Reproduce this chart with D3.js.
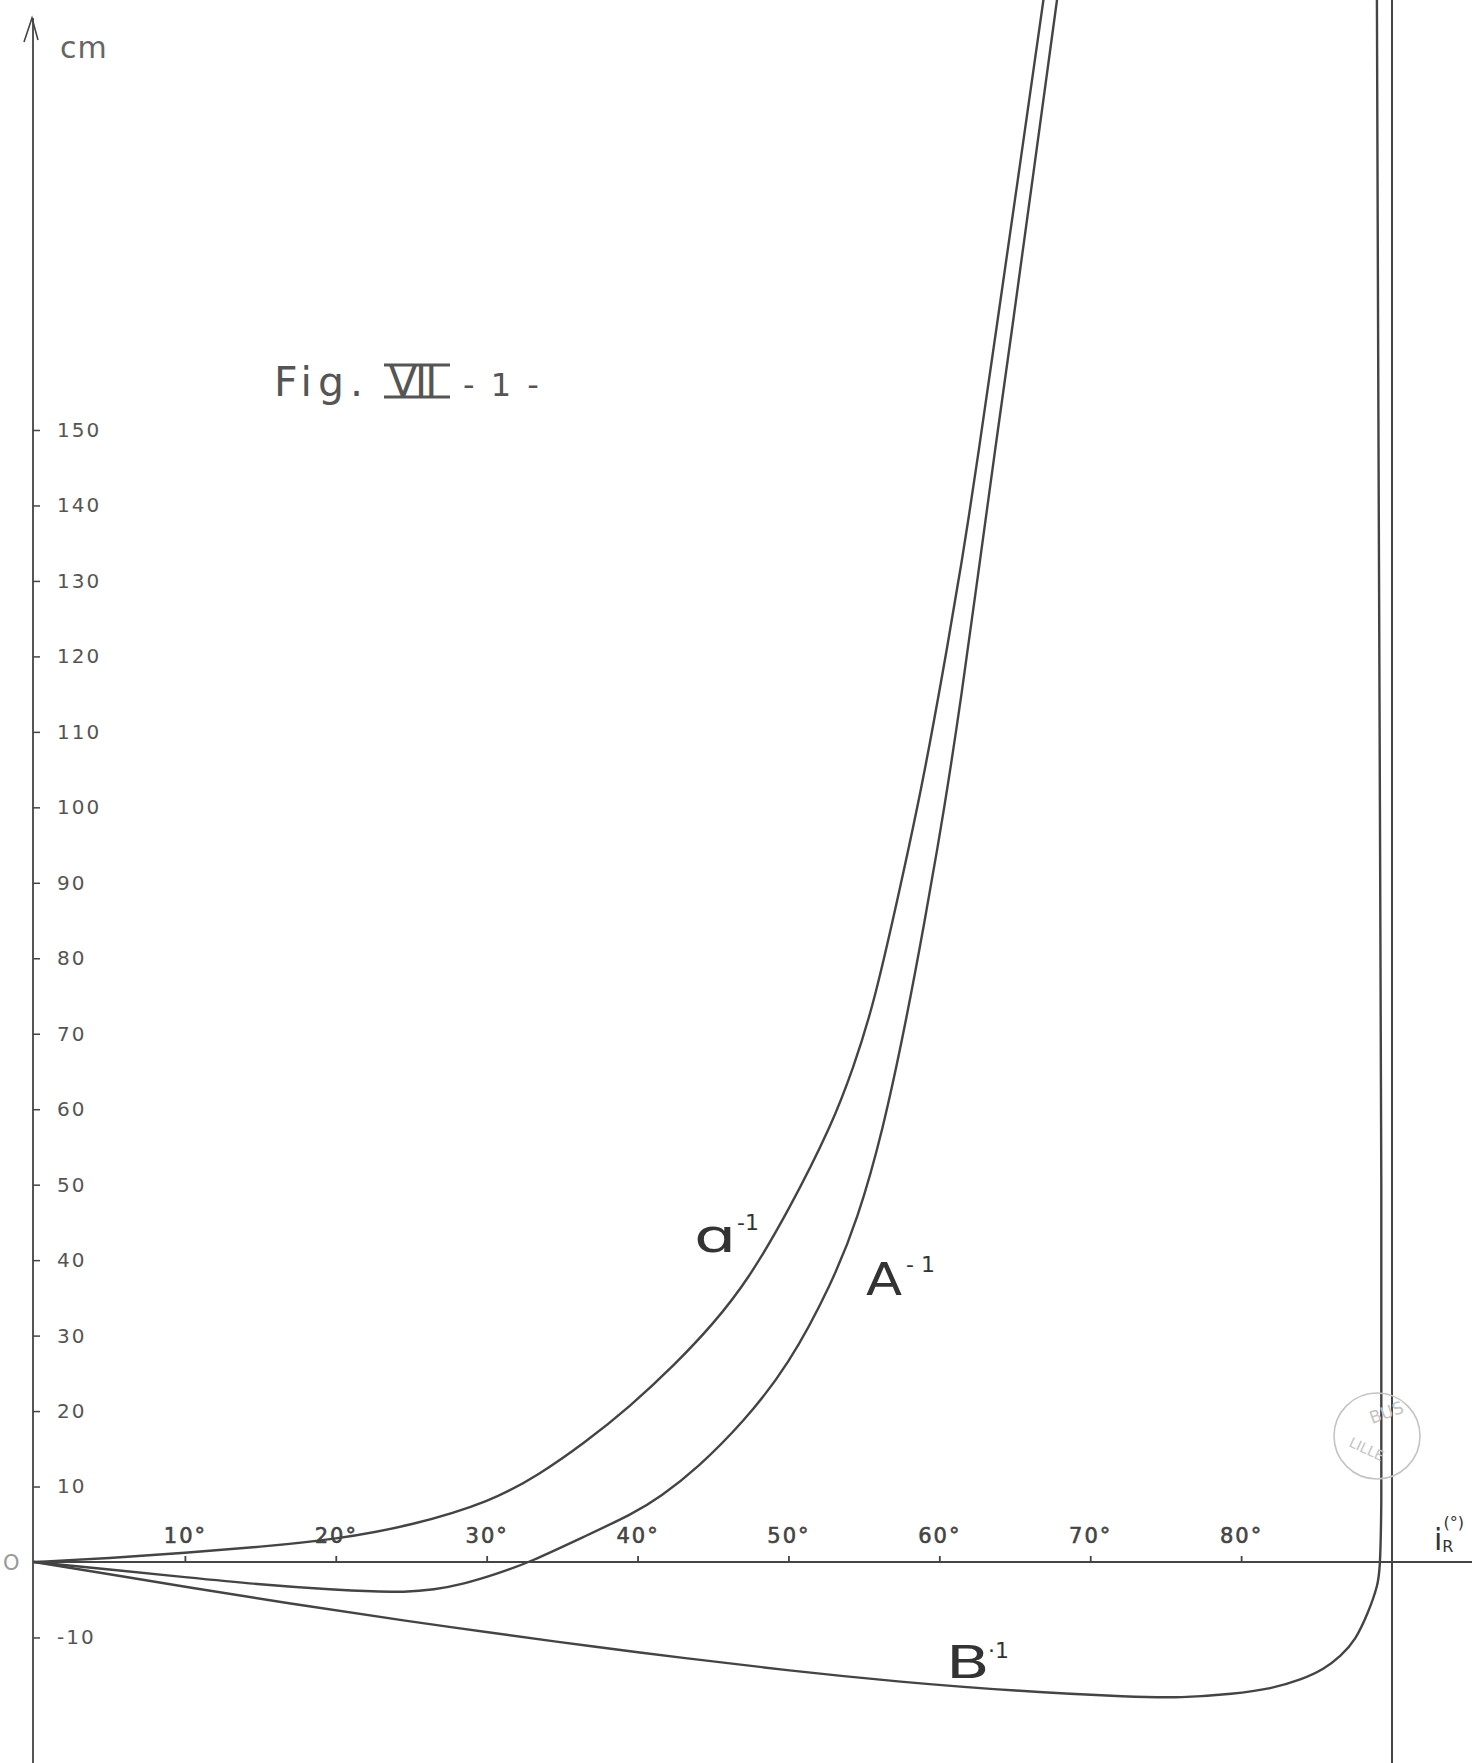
<!DOCTYPE html>
<html><head><meta charset="utf-8">
<script src="https://cdn.jsdelivr.net/npm/d3@7"></script>
<style>body{margin:0;background:#fff}svg{display:block}</style>
</head><body>
<svg id="c" width="1472" height="1763"></svg>
<script>
// ---- data (angle i_R in degrees, value in cm) ----
const yTickValues = [150,140,130,120,110,100,90,80,70,60,50,40,30,20,10,-10];
const yTickLabels = ["150","140","130","120","110","100","90","80","70","60","50","40","30","20","10","-10"];
const xTickValues = [10,20,30,40,50,60,70,80];
const xTickLabels = ["10°","20°","30°","40°","50°","60°","70°","80°"];

const curveSmallA = [[0,0],[5,0.5],[10,1.2],[15,2.0],[20,3.0],[25,4.8],[30.3,8.0],[33.5,11.6],[36.5,15.8],[39.5,20.6],[42.5,26.2],[45,31.5],[47.3,37.3],[50,46.5],[52.9,58],[54.3,65.5],[55.6,73.5],[57.2,87.5],[58.85,102.7],[60.2,117.5],[61.5,132.5],[62.6,147],[63.7,162.3],[65.3,184.5],[66.9,207]];
const curveBigA = [[0,0],[5,-1.0],[10,-2.0],[15,-3.0],[20,-3.7],[22.5,-3.9],[24.5,-4.0],[26.5,-3.7],[28.5,-2.9],[30.5,-1.7],[32.9,0],[36.4,3.3],[39.7,6.4],[41.5,8.6],[44,12.5],[47,18.5],[50,26],[52.9,37],[54.6,45.5],[56.24,57],[57.73,71],[59,84.5],[60.35,100],[61.45,114.5],[62.58,131],[63.7,147.5],[64.8,163],[66.3,185],[67.8,207]];
const curveB = [[0,0],[5,-1.6],[10,-3.3],[17.6,-5.7],[25,-7.9],[30,-9.3],[37,-11.2],[43,-12.7],[50,-14.4],[57.4,-15.9],[65,-17.1],[72.9,-17.9],[76,-18.0],[79.5,-17.5],[82,-16.8],[84,-15.6],[85.5,-14.2],[86.6,-12.5],[87.6,-10.3],[88.4,-6.8],[89.05,-3.3],[89.35,0.5],[89.3,50],[89.2,100],[89.1,150],[89.0,207]];
const asymptoteDeg = 90;

// ---- drawing ----
const W = 1472, H = 1763;
const svg = d3.select("#c");
const ink = "#444", txt = "#555";
const x = d3.scaleLinear().domain([0, 90]).range([34, 1392]);
const y = d3.scaleLinear().domain([0, 150]).range([1562, 430]);
const fontHand = "'DejaVu Sans', sans-serif";

// y axis
svg.append("line").attr("x1", 33).attr("x2", 33).attr("y1", 18).attr("y2", H)
  .attr("stroke", ink).attr("stroke-width", 1.8);
svg.append("path").attr("d", "M24,42 L32,18 L38,40").attr("fill", "none")
  .attr("stroke", ink).attr("stroke-width", 1.6);
svg.append("text").attr("x", 60).attr("y", 58).text("cm")
  .attr("font-family", fontHand).attr("font-size", 30).attr("fill", "#666").attr("letter-spacing", 1);

const yAxis = d3.axisRight(y).tickValues(yTickValues)
  .tickFormat((d, i) => yTickLabels[i]).tickSize(7).tickPadding(17);
const gy = svg.append("g").attr("transform", "translate(33,0)").call(yAxis);
gy.select(".domain").remove();
gy.selectAll(".tick line").attr("stroke", ink).attr("stroke-width", 1.5);
gy.selectAll(".tick text").attr("font-family", fontHand).attr("font-size", 20)
  .attr("fill", txt).attr("letter-spacing", 2).attr("text-anchor", "start");

// x axis
svg.append("line").attr("x1", 33).attr("x2", W).attr("y1", y(0)).attr("y2", y(0))
  .attr("stroke", ink).attr("stroke-width", 2);
const xAxis = d3.axisTop(x).tickValues(xTickValues)
  .tickFormat((d, i) => xTickLabels[i]).tickSize(6).tickPadding(13);
const gx = svg.append("g").attr("transform", `translate(0,${y(0)})`).call(xAxis);
gx.select(".domain").remove();
gx.selectAll(".tick line").attr("stroke", ink).attr("stroke-width", 1.8);
gx.selectAll(".tick text").attr("font-family", fontHand).attr("font-size", 21)
  .attr("fill", "#444").attr("letter-spacing", 2).attr("stroke", "#444").attr("stroke-width", 0.6);

svg.append("text").attr("x", 3).attr("y", y(0) + 8).text("O")
  .attr("font-family", fontHand).attr("font-size", 21).attr("fill", "#999");

// asymptote line
svg.append("line").attr("x1", x(asymptoteDeg)).attr("x2", x(asymptoteDeg)).attr("y1", 0).attr("y2", H)
  .attr("stroke", ink).attr("stroke-width", 2);

// curves (smooth B-spline through the read points)
const line = d3.line().x(d => x(d[0])).y(d => y(d[1])).curve(d3.curveBasis);
[curveSmallA, curveBigA, curveB].forEach(c => {
  svg.append("path").datum(c).attr("d", line).attr("fill", "none")
    .attr("stroke", ink).attr("stroke-width", 2.4).attr("stroke-linejoin", "round");
});

// curve labels (letter widened like the hand lettering, superscript after it)
function lab(xp, yp, main, sx, size, sup, supX, supY) {
  svg.append("text").attr("transform", `translate(${xp},${yp}) scale(${sx},1)`)
    .attr("font-family", fontHand).attr("font-size", size).attr("fill", "#333").text(main);
  svg.append("text").attr("x", supX).attr("y", supY)
    .attr("font-family", fontHand).attr("font-size", 22).attr("fill", "#333").text(sup);
}
lab(694, 1252, "ɑ", 1.45, 46, "-1", 737, 1230);
lab(866, 1295, "A", 1.2, 44, "- 1", 906, 1272);
lab(946, 1678, "B", 1.45, 44, "·1", 988, 1658);

// i_R axis label
const ir = svg.append("text").attr("x", 1434).attr("y", 1550)
  .attr("font-family", fontHand).attr("font-size", 30).attr("fill", "#333");
ir.append("tspan").text("i");
ir.append("tspan").attr("font-size", 16).attr("dy", 2).text("R");
ir.append("tspan").attr("font-size", 16).attr("dy", -24).attr("dx", -10).text("(°)");

// title
const title = svg.append("g").attr("transform", "translate(0,10)");
title.append("text").attr("x", 274).attr("y", 386).text("Fig.")
  .attr("font-family", fontHand).attr("font-size", 41).attr("fill", txt).attr("letter-spacing", 6);
title.append("text").attr("x", 389).attr("y", 386).text("VII")
  .attr("font-family", fontHand).attr("font-size", 41).attr("fill", txt).attr("letter-spacing", -2);
title.append("line").attr("x1", 384).attr("x2", 450).attr("y1", 355).attr("y2", 355).attr("stroke", txt).attr("stroke-width", 3);
title.append("line").attr("x1", 384).attr("x2", 450).attr("y1", 387).attr("y2", 387).attr("stroke", txt).attr("stroke-width", 3);
title.append("text").attr("x", 463).attr("y", 386).text("- 1 -")
  .attr("font-family", fontHand).attr("font-size", 32).attr("fill", txt).attr("letter-spacing", 3);

// library stamp
svg.append("circle").attr("cx", 1377).attr("cy", 1436).attr("r", 43)
  .attr("fill", "none").attr("stroke", "#c4c4c4").attr("stroke-width", 1.6);
svg.append("text").attr("transform", "translate(1372,1424) rotate(-20)").text("BUS")
  .attr("font-family", fontHand).attr("font-size", 17).attr("fill", "#c4c4c4");
svg.append("text").attr("transform", "translate(1348,1446) rotate(25)").text("LILLE")
  .attr("font-family", fontHand).attr("font-size", 14).attr("fill", "#c4c4c4");
</script>
</body></html>
